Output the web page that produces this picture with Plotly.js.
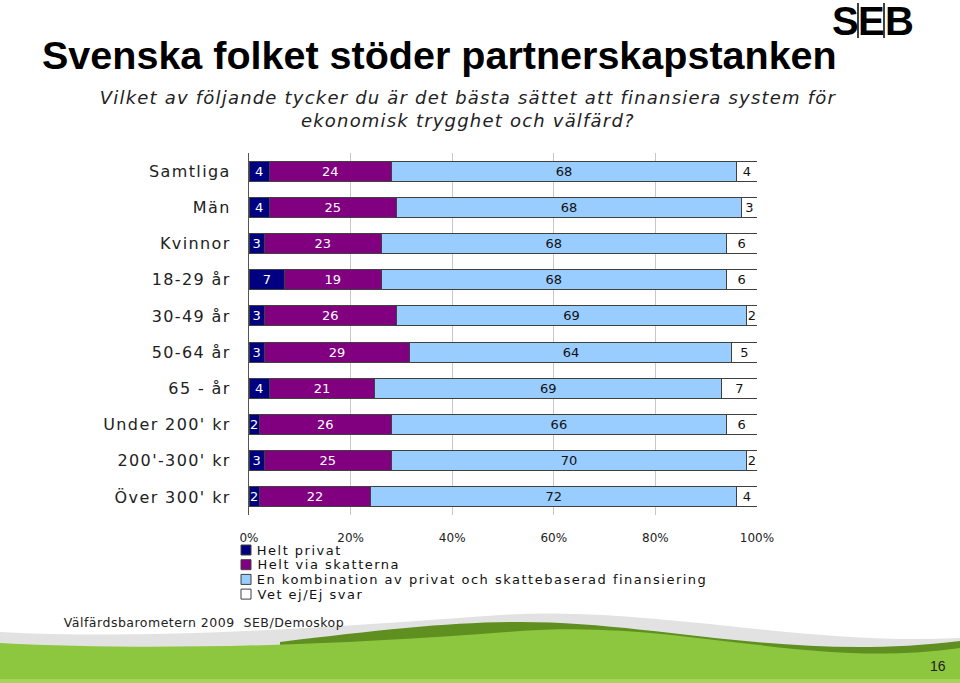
<!DOCTYPE html>
<html>
<head>
<meta charset="utf-8">
<script src="https://cdn.plot.ly/plotly-3.0.1.min.js"></script>
<style>
html,body{margin:0;padding:0;background:#fff;}
#chart{width:960px;height:683px;}
.ytick text{letter-spacing:1.4px;}
g.annotation[data-index="3"] text{letter-spacing:1.2px;}
g.annotation[data-index="4"] text,
g.annotation[data-index="5"] text,
g.annotation[data-index="6"] text,
g.annotation[data-index="7"] text{letter-spacing:1.5px;}
g.annotation[data-index="8"] text{letter-spacing:0.5px;}
</style>
</head>
<body>
<div id="chart"></div>
<script>
// ---- data ----
const categories = ["Samtliga","Män","Kvinnor","18-29 år","30-49 år","50-64 år","65 - år","Under 200' kr","200'-300' kr","Över 300' kr"];
const heltPrivat = [4,4,3,7,3,3,4,2,3,2];
const heltViaSkatterna = [24,25,23,19,26,29,21,26,25,22];
const kombination = [68,68,68,68,69,64,69,66,70,72];
const vetEj = [4,3,6,6,2,5,7,6,2,4];
const seriesNames = ["Helt privat","Helt via skatterna","En kombination av privat och skattebaserad finansiering","Vet ej/Ej svar"];
const xTickVals = [0,20,40,60,80,100];
const xTickText = ["0%","20%","40%","60%","80%","100%"];

// ---- styles ----
const colors = ["#000080","#800080","#99CCFF","#FFFFFF"];
const textColors = ["#FFFFFF","#FFFFFF","#111111","#111111"];
const FONT = "DejaVu Sans, Verdana, sans-serif";
const ARIAL = "Liberation Sans, Arial, sans-serif";
const LEG_LS = 1.5, FOOT_LS = 0.5;

// plot-area geometry in pixels
const L = 249, R = 203, T = 153, B = 168;
const W = 960 - L - R, H = 683 - T - B;
const px = x => (x - L) / W;
const py = y => (683 - B - y) / H;
const pathPx = s => s.replace(/(-?[\d.]+),(-?[\d.]+)/g, (m, a, b) => px(+a).toFixed(5) + "," + py(+b).toFixed(5));

const seriesValues = [heltPrivat, heltViaSkatterna, kombination, vetEj];
const traces = seriesValues.map((vals, i) => ({
  type: "bar",
  orientation: "h",
  name: seriesNames[i],
  y: categories,
  x: vals,
  text: vals.map(String),
  textposition: "inside",
  insidetextanchor: "middle",
  textangle: 0,
  constraintext: "none",
  textfont: {family: FONT, size: 13, color: textColors[i]},
  marker: {color: colors[i], line: {color: "#404040", width: 1}},
  cliponaxis: false,
  hoverinfo: "skip"
}));

const shapes = [];
const annotations = [];

// green swoosh decoration
shapes.push({type: "path", xref: "paper", yref: "paper", layer: "below", line: {width: 0},
  fillcolor: "#e2e2e2",
  path: pathPx("M0,632 C150,640 320,628 500,615 C650,605 800,646 960,638 L960,683 L0,683 Z")});
shapes.push({type: "path", xref: "paper", yref: "paper", layer: "below", line: {width: 0},
  fillcolor: "#5e8f20",
  path: pathPx("M280,642 C380,630 450,622 520,622 C660,622 790,662 960,641 L960,683 L280,683 Z")});
shapes.push({type: "path", xref: "paper", yref: "paper", layer: "below", line: {width: 0},
  fillcolor: "#8dc63f",
  path: pathPx("M0,643 C150,651 330,646 520,631 C680,619 810,670 960,648 L960,683 L0,683 Z")});
shapes.push({type: "rect", xref: "paper", yref: "paper", layer: "below", line: {width: 0},
  fillcolor: "#a6d45a", x0: px(0), x1: px(960), y0: py(683), y1: py(679)});

// SEB logo bars
[858, 884].forEach(x => shapes.push({type: "line", xref: "paper", yref: "paper",
  x0: px(x), x1: px(x), y0: py(3), y1: py(38), line: {color: "#000", width: 1.5}}));
[["S", 845], ["E", 871], ["B", 899]].forEach(([t, x]) => annotations.push({
  text: "<b>" + t + "</b>", xref: "paper", yref: "paper", x: px(x), y: py(21), xanchor: "center", yanchor: "middle",
  showarrow: false, font: {family: ARIAL, size: 40, color: "#000"}}));

// subtitle (index 3)
annotations.push({
  text: "<i>Vilket av följande tycker du är det bästa sättet att finansiera system för<br>ekonomisk trygghet och välfärd?</i>",
  xref: "paper", yref: "paper", x: px(468), y: py(109), xanchor: "center", yanchor: "middle",
  align: "center", showarrow: false, font: {family: FONT, size: 18, color: "#222"}});

// custom legend (indices 4..7)
seriesNames.forEach((n, i) => {
  const yc = 550 + i * 14.7;
  shapes.push({type: "rect", xref: "paper", yref: "paper",
    x0: px(241), x1: px(251), y0: py(yc - 5), y1: py(yc + 5),
    fillcolor: colors[i], line: {color: "#404040", width: 1}});
  annotations.push({text: n, xref: "paper", yref: "paper", x: px(255), y: py(yc),
    xanchor: "left", yanchor: "middle", showarrow: false,
    xshift: n.length * LEG_LS / 2,
    font: {family: FONT, size: 13, color: "#111"}});
});

// footer (index 8, 9)
const footer = "Välfärdsbarometern 2009\u00a0 SEB/Demoskop";
annotations.push({text: footer, xref: "paper", yref: "paper",
  x: px(62), y: py(622), xanchor: "left", yanchor: "middle", showarrow: false,
  xshift: footer.length * FOOT_LS / 2,
  font: {family: FONT, size: 12.5, color: "#222"}});
annotations.push({text: "16", xref: "paper", yref: "paper",
  x: px(948), y: py(666), xanchor: "right", yanchor: "middle", showarrow: false,
  font: {family: ARIAL, size: 14, color: "#222"}});

const layout = {
  width: 960, height: 683,
  margin: {l: L, r: R, t: T, b: B, pad: 0},
  paper_bgcolor: "#fff", plot_bgcolor: "#fff",
  barmode: "stack", barnorm: "percent", bargap: 0.45,
  showlegend: false,
  title: {text: "<b>Svenska folket stöder partnerskapstanken</b>", xref: "container", yref: "container",
    x: 42 / 960, xanchor: "left", y: 1 - 55 / 683, yanchor: "middle",
    font: {family: ARIAL, size: 39.5, color: "#000"}},
  xaxis: {range: [0, 100], tickvals: xTickVals, ticktext: xTickText,
    showgrid: true, gridcolor: "#c8c8c8", gridwidth: 1, zeroline: false, showline: false,
    ticks: "outside", ticklen: 12, tickcolor: "rgba(0,0,0,0)",
    tickfont: {family: FONT, size: 12, color: "#222"}, fixedrange: true},
  yaxis: {categoryorder: "array", categoryarray: categories, autorange: "reversed",
    showline: true, linecolor: "#555", linewidth: 1, showgrid: false,
    ticks: "outside", ticklen: 14, tickcolor: "rgba(0,0,0,0)",
    tickfont: {family: FONT, size: 16, color: "#222"}, fixedrange: true},
  shapes: shapes,
  annotations: annotations
};

Plotly.newPlot("chart", traces, layout, {displayModeBar: false, staticPlot: true});
</script>
</body>
</html>
